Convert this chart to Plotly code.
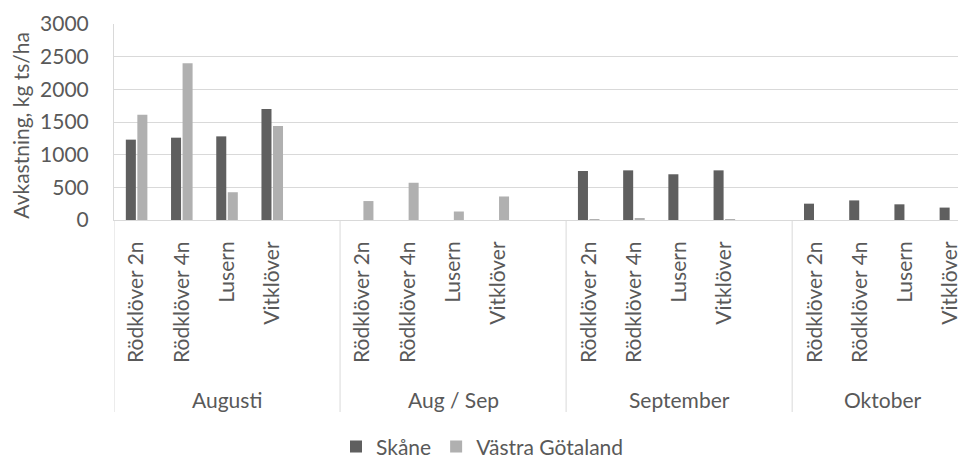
import plotly.graph_objects as go

months = ["Augusti", "Aug / Sep", "September", "Oktober"]
crops = ["Rödklöver 2n", "Rödklöver 4n", "Lusern", "Vitklöver"]
series_names = ["Skåne", "Västra Götaland"]

skane = {
    "Augusti":   [1230, 1260, 1280, 1700],
    "Aug / Sep": [0, 0, 0, 0],
    "September": [750, 760, 700, 760],
    "Oktober":   [250, 300, 240, 190],
}
vastra = {
    "Augusti":   [1610, 2400, 425, 1440],
    "Aug / Sep": [290, 570, 130, 360],
    "September": [5, 30, 0, 5],
    "Oktober":   [0, 0, 0, 0],
}
y_ticks = [0, 500, 1000, 1500, 2000, 2500, 3000]

colors = ["#5f5f5f", "#b0b0b0"]
text_color = "#595959"
grid_color = "#d9d9d9"
FONT = "Lato"
FS = 21

# slot layout: each month group takes 5 slots (4 crops + 1 empty), last group has 4
slots_per_group = [5, 5, 5, 4]
xs, labels, group_bounds = [], [], []
start = 0
for g, m in enumerate(months):
    for i, c in enumerate(crops):
        xs.append(start + i)
        labels.append(c)
    group_bounds.append((start - 0.5, start + slots_per_group[g] - 0.5))
    start += slots_per_group[g]

sk_vals = [v for m in months for v in skane[m]]
vg_vals = [v for m in months for v in vastra[m]]

fig = go.Figure()
fig.add_trace(go.Bar(x=xs, y=sk_vals, name=series_names[0], marker_color=colors[0],
                     marker_line_width=0))
fig.add_trace(go.Bar(x=xs, y=vg_vals, name=series_names[1], marker_color=colors[1],
                     marker_line_width=0))

# the page body has an 8px margin; the figure is sized to fill the rest of the window
OFF = 8
W, H = 966 - OFF, 458 - OFF
ml, mt = 114 - OFF, 24 - OFF
plot_bottom = 220.5 - OFF
mb = H - plot_bottom
plot_h = plot_bottom - mt
plot_w = W - ml


def py(ref_y):
    """paper y for a reference-image pixel row"""
    return (plot_bottom - (ref_y - OFF)) / plot_h


def px(ref_x):
    return ((ref_x - OFF) - ml) / plot_w


shapes = []
annotations = []
for (a, b), m in zip(group_bounds, months):
    shapes.append(dict(type="line", xref="x", yref="paper", x0=a, x1=a, y0=0,
                       y1=py(413), line=dict(color=grid_color, width=1)))
    annotations.append(dict(text=m, xref="x", yref="paper", x=(a + b) / 2,
                            y=py(400), showarrow=False,
                            font=dict(family=FONT, size=FS, color=text_color),
                            xanchor="center", yanchor="middle"))
annotations.append(dict(text="Avkastning, kg ts/ha", xref="paper", yref="paper",
                        x=px(21), y=py(126), textangle=-90,
                        showarrow=False, xanchor="center", yanchor="middle",
                        font=dict(family=FONT, size=FS, color=text_color)))

fig.update_layout(
    width=W, height=H,
    margin=dict(l=ml, r=0, t=mt, b=mb, pad=0, autoexpand=False),
    plot_bgcolor="white", paper_bgcolor="white",
    barmode="group", bargap=0.49, bargroupgap=0.13,
    font=dict(family=FONT, size=FS, color=text_color),
    shapes=shapes, annotations=annotations,
    showlegend=True,
    legend=dict(orientation="h", x=px(336), xanchor="left",
                y=py(448), yanchor="middle",
                font=dict(family=FONT, size=FS, color=text_color),
                itemwidth=30, traceorder="normal"),
)
fig.update_xaxes(range=[-0.5, 18.345], tickmode="array", tickvals=xs, ticktext=labels,
                 tickangle=-90, showgrid=False, showline=True, linecolor=grid_color,
                 linewidth=1, ticks="", ticklabelstandoff=12, zeroline=False,
                 automargin=False,
                 tickfont=dict(family=FONT, size=FS, color=text_color))
fig.update_yaxes(range=[0, 3000], tickvals=y_ticks, showgrid=True, gridcolor=grid_color,
                 gridwidth=1, showline=True, linecolor=grid_color, linewidth=1,
                 zeroline=False, ticks="", ticklabelstandoff=20, automargin=False,
                 tickfont=dict(family=FONT, size=FS, color=text_color))

fig.write_html("out.html")
